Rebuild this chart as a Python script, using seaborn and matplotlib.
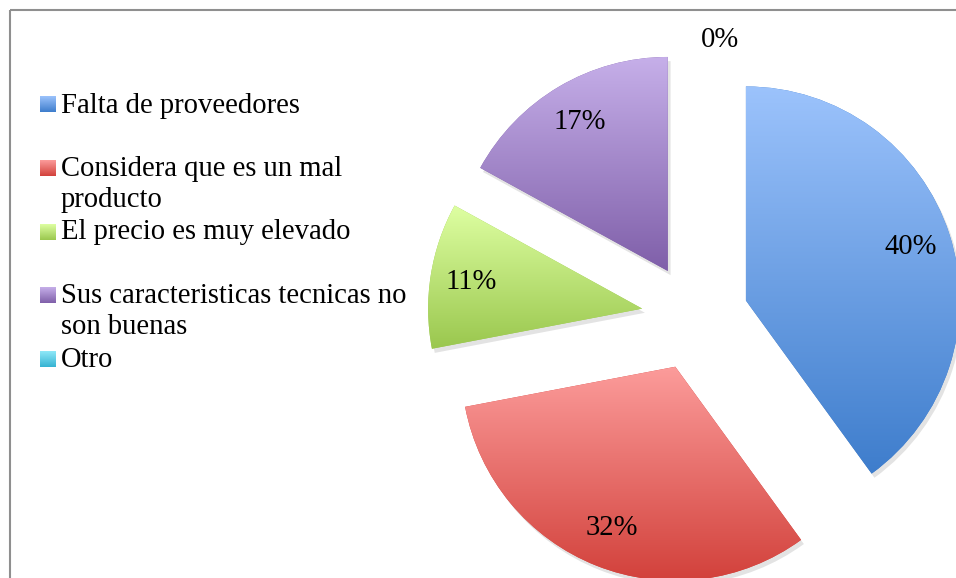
import numpy as np
import matplotlib
matplotlib.use("Agg")
import matplotlib.pyplot as plt
import matplotlib.patheffects as pe
from matplotlib.colors import to_rgb
import seaborn as sns

# Survey answers and their shares (%)
categories = [
    "Falta de proveedores",
    "Considera que es un mal\nproducto",
    "El precio es muy elevado",
    "Sus caracteristicas tecnicas no\nson buenas",
    "Otro",
]
shares = [40, 32, 11, 17, 0]

# Vertical gradient colours for each slice (top -> bottom)
top_colors = ["#9CC3FC", "#FC9C9B", "#DEFFA2", "#C6AFE9", "#8FE8F8"]
bottom_colors = ["#3E7DCC", "#D2413B", "#9AC74E", "#7F5FA9", "#36B3D2"]

sns.set_theme(style="white")
plt.rcParams["font.family"] = ["Liberation Serif", "DejaVu Serif"]

W, H = 956, 578
fig = plt.figure(figsize=(W / 100, H / 100), dpi=100)
fig.patch.set_facecolor("white")

# pie axes: one data unit = pie radius in pixels
ax = fig.add_axes([0, 0, 1, 1])
R = 214.0
cx, cy = 695.0, 317.0

FS = 20.6


def gradient(top, bottom, n=256):
    t = np.linspace(0, 1, n)[:, None, None]
    return (1 - t) * np.array(to_rgb(top))[None, None, :] + t * np.array(to_rgb(bottom))[None, None, :]


wedges, texts, autotexts = ax.pie(
    shares,
    startangle=90,
    counterclock=False,
    explode=[0.25] * len(shares),
    autopct="%1.0f%%",
    pctdistance=0.81,
    radius=1.0,
    colors=bottom_colors,
    wedgeprops=dict(linewidth=0),
    textprops=dict(fontsize=FS, color="black"),
)

for w, tc, bc in zip(wedges, top_colors, bottom_colors):
    if abs(w.theta2 - w.theta1) < 1e-6:
        continue
    w.set_path_effects([
        pe.SimplePatchShadow(offset=(2, -3), shadow_rgbFace="#808080", alpha=0.22),
        pe.Normal(),
    ])
    ext = w.get_path().get_extents(w.get_patch_transform())
    im = ax.imshow(
        gradient(tc, bc),
        extent=[ext.x0, ext.x1, ext.y0, ext.y1],
        origin="upper",
        aspect="auto",
        interpolation="bilinear",
        zorder=w.get_zorder() + 0.5,
    )
    im.set_clip_path(w)

for t in autotexts:
    t.set_zorder(5)

# the zero share label sits above the pie
autotexts[-1].set_position((25 / R, 277 / R))

ax.set_aspect("auto")
ax.set_xlim(-cx / R, (W - cx) / R)
ax.set_ylim(-(H - cy) / R, cy / R)
ax.axis("off")

# overlay axes in pixel coordinates for the legend and frame
lax = fig.add_axes([0, 0, 1, 1])
lax.set_xlim(0, W)
lax.set_ylim(H, 0)
lax.axis("off")
lax.patch.set_visible(False)

marker_tops = [96, 160, 224, 287, 351]
baselines = [113, 176, 239, 303, 367]
line_step = 31
for label, tc, bc, mt, bl in zip(categories, top_colors, bottom_colors, marker_tops, baselines):
    lax.imshow(gradient(tc, bc), extent=[40, 56, mt + 16, mt], origin="upper",
               aspect="auto", interpolation="bilinear")
    for i, line in enumerate(label.split("\n")):
        lax.text(61, bl + i * line_step, line, fontsize=FS, color="black",
                 ha="left", va="baseline")

lax.plot([10, 10], [H, 10], color="#8f8f8f", lw=1.5, solid_capstyle="butt")
lax.plot([10, W], [10, 10], color="#8f8f8f", lw=1.5, solid_capstyle="butt")
lax.set_xlim(0, W)
lax.set_ylim(H, 0)

fig.savefig("out.png", dpi=100, facecolor="white")
